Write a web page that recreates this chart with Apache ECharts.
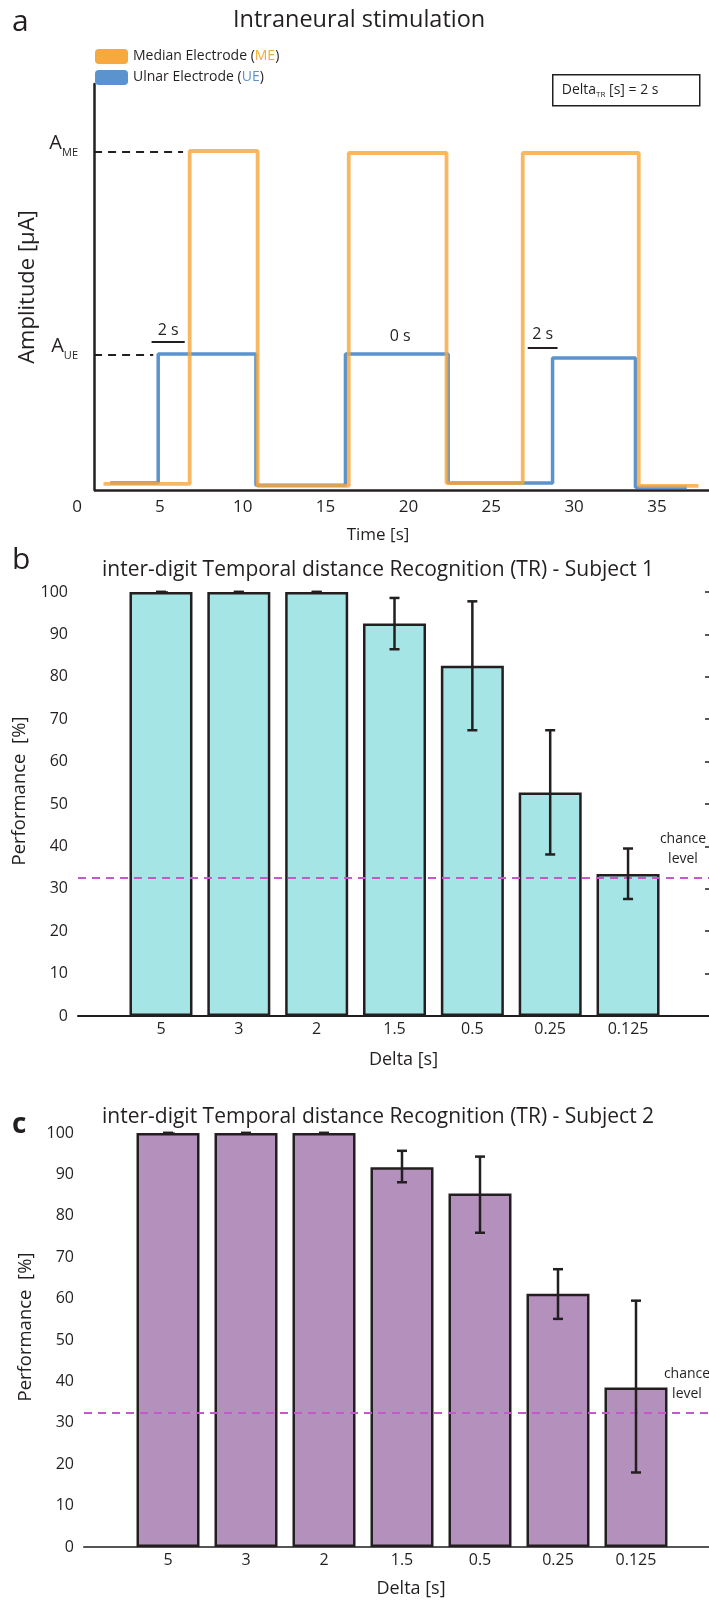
<!DOCTYPE html>
<html>
<head>
<meta charset="utf-8">
<script src="https://cdn.jsdelivr.net/npm/echarts@6/dist/echarts.min.js"></script>
<style>
  html, body { margin: 0; padding: 0; background: #fff; }
  #chart { width: 709px; height: 1605px; }
</style>
</head>
<body>
<div id="chart"></div>
<script>
// ---- panel a: stimulation timing (time in s, amplitude in arbitrary units) ----
var meEdges  = [1.6, 6.8, 10.9, 16.4, 22.3, 26.9, 33.9, 37.5];
var meLevels = [1.5, 83.5, 1.0, 83.0, 1.7, 83.0, 1.0, 1.0];
var ueEdges  = [2.0, 4.9, 10.8, 16.2, 22.4, 28.7, 33.7, 36.8];
var ueLevels = [1.7, 33.5, 1.2, 33.5, 1.7, 32.5, 0.7, 0.7];
var timeTicks = [0, 5, 10, 15, 20, 25, 30, 35];
var ampTicks = [83.3, 33.3];
var ampLabels = ['ME', 'UE'];
var guideEnds = [6.4, 4.6];          // where the dashed A_ME / A_UE guides stop
var delayTexts = ['2 s', '0 s', '2 s'];
var delayTextT = [5.5, 19.5, 28.1];
var delayTextAmp = [39.4, 37.9, 38.2];
var delayBarStart = [4.5, null, 27.2];
var delayBarEnd = [6.5, null, 29.0];
var delayBarAmp = [36.5, null, 35.0];

// ---- panels b and c: performance per delta ----
var deltaLabels = ['5', '3', '2', '1.5', '0.5', '0.25', '0.125'];
var perf1 = [100, 100, 100, 92.6, 82.6, 52.7, 33.5];
var err1Low = [100, 100, 100, 86.5, 67.4, 38.1, 27.6];
var err1High = [100, 100, 100, 98.6, 97.8, 67.4, 39.5];
var perf2 = [100, 100, 100, 91.7, 85.4, 61.2, 38.5];
var err2Low = [100, 100, 100, 88.1, 75.9, 55.1, 18.0];
var err2High = [100, 100, 100, 95.7, 94.3, 67.1, 59.5];
var chance1 = 32.7;
var chance2 = 32.5;

var FONT = "'Open Sans', 'Noto Sans', sans-serif";
var INK = '#231f20';
var ORANGE = '#f7a83e';
var BLUE = '#5b93ce';
var aOriginT = 1.03;   // time value where the amplitude axis is drawn

var chart = echarts.init(document.getElementById('chart'));

var idx = deltaLabels.map(function (d, i) { return i; });

function renderErr(params, api) {
  var x = api.value(0);
  var top = api.coord([x, api.value(2)]);
  var bot = api.coord([x, api.value(1)]);
  var cap = 5;
  var st = { stroke: INK, lineWidth: 2.5 };
  return {
    type: 'group',
    children: [
      { type: 'line', shape: { x1: top[0], y1: top[1], x2: bot[0], y2: bot[1] }, style: st },
      { type: 'line', shape: { x1: top[0] - cap, y1: top[1], x2: top[0] + cap, y2: top[1] }, style: st },
      { type: 'line', shape: { x1: bot[0] - cap, y1: bot[1], x2: bot[0] + cap, y2: bot[1] }, style: st }
    ]
  };
}

function barAxisX(grid, min, max, lineColor, nameShift, nameGap) {
  return {
    gridIndex: grid, type: 'value', min: min, max: max,
    axisLine: { show: true, lineStyle: { color: lineColor, width: 2 } },
    axisTick: { show: false },
    splitLine: { show: false },
    axisLabel: {
      customValues: idx, fontSize: 16, color: INK, margin: 5,
      formatter: function (v) { return deltaLabels[Math.round(v)]; }
    },
    name: 'Delta [s]', nameLocation: 'middle', nameGap: nameGap,
    nameTextStyle: { fontSize: 18, color: INK, padding: [0, 0, 0, nameShift] }
  };
}

function barAxisY(grid, lineColor) {
  return {
    gridIndex: grid, type: 'value', min: 0, max: 100, interval: 10,
    axisLine: { show: true, lineStyle: { color: lineColor, width: 2 } },
    axisTick: { show: true, inside: true, length: 7, lineStyle: { color: lineColor, width: 1.5 } },
    splitLine: { show: false },
    axisLabel: { fontSize: 16, color: INK, margin: 10 },
    name: 'Performance  [%]', nameLocation: 'middle', nameGap: 38,
    nameTextStyle: { fontSize: 18.5, color: INK, padding: [0, 0, 0, 26] }
  };
}

function chanceLine(value, dx) {
  return {
    silent: true, symbol: 'none',
    lineStyle: { color: '#c45ac9', type: [8, 6], width: 2 },
    label: {
      show: true, formatter: 'chance\nlevel', position: 'insideEndTop',
      fontSize: 14, lineHeight: 20, color: INK, align: 'center', distance: [dx, 8]
    },
    data: [{ yAxis: value }]
  };
}

var option = {
  animation: false,
  textStyle: { fontFamily: FONT },
  title: [
    { text: 'a', left: 12, top: 7, padding: 0, textStyle: { fontSize: 30, fontWeight: 'normal', color: INK } },
    { text: 'Intraneural stimulation', left: 233, top: 8, padding: 0,
      textStyle: { fontSize: 23.5, fontWeight: 'normal', color: INK } },
    { text: 'b', left: 12, top: 545, padding: 0, textStyle: { fontSize: 30, fontWeight: 'normal', color: INK } },
    { text: 'inter-digit Temporal distance Recognition (TR) - Subject 1', left: 102, top: 560, padding: 0,
      textStyle: { fontSize: 21, fontWeight: 'normal', color: INK } },
    { text: 'c', left: 12, top: 1111, padding: 0, textStyle: { fontSize: 28, fontWeight: 'bold', color: INK } },
    { text: 'inter-digit Temporal distance Recognition (TR) - Subject 2', left: 102, top: 1107, padding: 0,
      textStyle: { fontSize: 21, fontWeight: 'normal', color: INK } }
  ],
  // boxed note "Delta_TR [s] = 2 s" at the top right of panel a
  graphic: [{
    type: 'group', left: 552, top: 74,
    children: [
      { type: 'rect', shape: { x: 0, y: 0, width: 147, height: 31 },
        style: { fill: '#fff', stroke: INK, lineWidth: 1.5 } },
      { type: 'text', x: 9, y: 15.5,
        style: { text: 'Delta{s|TR} [s] = 2 s', fill: INK, fontSize: 14, fontFamily: FONT,
          verticalAlign: 'middle',
          rich: { s: { fontSize: 8, fontFamily: FONT, fill: INK, padding: [9, 0, 0, 0] } } } }
    ]
  }],
  legend: {
    orient: 'vertical', left: 90, top: 44, itemWidth: 33, itemHeight: 15, itemGap: 6,
    icon: 'roundRect', selectedMode: false,
    data: [
      { name: 'Median Electrode (ME)', itemStyle: { color: ORANGE, opacity: 1 } },
      { name: 'Ulnar Electrode (UE)', itemStyle: { color: BLUE, opacity: 1 } }
    ],
    formatter: function (name) {
      return name.replace('(ME)', '({me|ME})').replace('(UE)', '({ue|UE})');
    },
    textStyle: { fontSize: 14, color: INK,
      rich: { me: { fontSize: 14, color: ORANGE }, ue: { fontSize: 14, color: BLUE } } }
  },
  grid: [
    { left: 77, right: 0, top: 84, bottom: 1115, outerBoundsMode: 'none' },
    { left: 78, right: 0, top: 592, bottom: 589, outerBoundsMode: 'none' },
    { left: 84, right: 0, top: 1133, bottom: 58, outerBoundsMode: 'none' }
  ],
  xAxis: [
    { gridIndex: 0, type: 'value', min: 0, max: 38.14,
      axisLine: { show: false }, axisTick: { show: false }, splitLine: { show: false },
      axisLabel: { customValues: timeTicks, fontSize: 17, color: INK, margin: 9 },
      name: 'Time [s]', nameLocation: 'middle', nameGap: 37,
      nameTextStyle: { fontSize: 17, color: INK, padding: [0, 30, 0, 0] } },
    barAxisX(1, -1.066, 7.04, INK, 20, 35),
    barAxisX(2, -1.077, 6.936, '#555', 29, 33)
  ],
  yAxis: [
    { gridIndex: 0, type: 'value', min: 0, max: 100, offset: -17,
      axisLine: { show: true, lineStyle: { color: INK, width: 2.5 } },
      axisTick: { show: false }, splitLine: { show: false },
      axisLabel: {
        customValues: ampTicks, margin: 16, color: INK,
        formatter: function (v) { return '{a|A}{s|' + ampLabels[ampTicks.indexOf(v)] + '}'; },
        rich: {
          a: { fontSize: 20, color: INK, padding: [0, 0, 18, 0], verticalAlign: 'bottom' },
          s: { fontSize: 11, color: INK, padding: [0, 0, 12, 0], verticalAlign: 'bottom' }
        }
      },
      name: 'Amplitude [µA]', nameLocation: 'middle', nameGap: 52,
      nameTextStyle: { fontSize: 22, color: INK } },
    barAxisY(1, INK),
    { gridIndex: 1, type: 'value', position: 'right', min: 0, max: 100, interval: 10,
      axisLine: { show: false }, axisLabel: { show: false }, splitLine: { show: false },
      axisTick: { show: true, inside: true, length: 4, lineStyle: { color: INK, width: 1.5 } } },
    barAxisY(2, '#555')
  ],
  series: [
    { name: 'Ulnar Electrode (UE)', type: 'line', xAxisIndex: 0, yAxisIndex: 0, step: 'end',
      showSymbol: false, color: BLUE, lineStyle: { color: BLUE, width: 3.5 },
      data: ueEdges.map(function (t, i) { return [t, ueLevels[i]]; }),
      markLine: {
        silent: true, symbol: 'none', label: { show: false },
        lineStyle: { color: INK, width: 2, type: 'solid' },
        data: delayBarStart.map(function (s, i) {
          return s === null ? null : [{ coord: [s, delayBarAmp[i]] }, { coord: [delayBarEnd[i], delayBarAmp[i]] }];
        }).filter(function (d) { return d; })
      },
      markPoint: {
        silent: true, symbol: 'circle', symbolSize: 0,
        label: { show: true, position: 'inside', formatter: '{b}', fontSize: 16, color: INK },
        data: delayTexts.map(function (txt, i) { return { name: txt, coord: [delayTextT[i], delayTextAmp[i]] }; })
      } },
    { name: 'Median Electrode (ME)', type: 'line', xAxisIndex: 0, yAxisIndex: 0, step: 'end',
      showSymbol: false, color: ORANGE, lineStyle: { color: ORANGE, width: 3.8, opacity: 0.82 },
      data: meEdges.map(function (t, i) { return [t, meLevels[i]]; }),
      markLine: {
        silent: true, symbol: 'none', label: { show: false },
        data: [
          [{ coord: [aOriginT, ampTicks[0]], lineStyle: { color: INK, width: 2, type: [8, 6] } },
           { coord: [guideEnds[0], ampTicks[0]] }],
          [{ coord: [aOriginT, ampTicks[1]], lineStyle: { color: INK, width: 2, type: [8, 6] } },
           { coord: [guideEnds[1], ampTicks[1]] }],
          [{ coord: [aOriginT, 0], lineStyle: { color: INK, width: 2.5, type: 'solid' } },
           { coord: [38.14, 0] }]
        ]
      } },
    { type: 'bar', xAxisIndex: 1, yAxisIndex: 1, barWidth: 63,
      itemStyle: { color: '#a6e5e5', borderColor: INK, borderWidth: 2.5 },
      data: idx.map(function (i) { return [i, perf1[i]]; }),
      markLine: chanceLine(chance1, 26) },
    { type: 'custom', xAxisIndex: 1, yAxisIndex: 1, z: 5, renderItem: renderErr,
      encode: { x: 0, y: [1, 2] },
      data: idx.map(function (i) { return [i, err1Low[i], err1High[i]]; }) },
    { type: 'bar', xAxisIndex: 2, yAxisIndex: 3, barWidth: 63,
      itemStyle: { color: '#b491bc', borderColor: INK, borderWidth: 2.5 },
      data: idx.map(function (i) { return [i, perf2[i]]; }),
      markLine: chanceLine(chance2, 22) },
    { type: 'custom', xAxisIndex: 2, yAxisIndex: 3, z: 5, renderItem: renderErr,
      encode: { x: 0, y: [1, 2] },
      data: idx.map(function (i) { return [i, err2Low[i], err2High[i]]; }) }
  ]
};

chart.setOption(option);
</script>
</body>
</html>
